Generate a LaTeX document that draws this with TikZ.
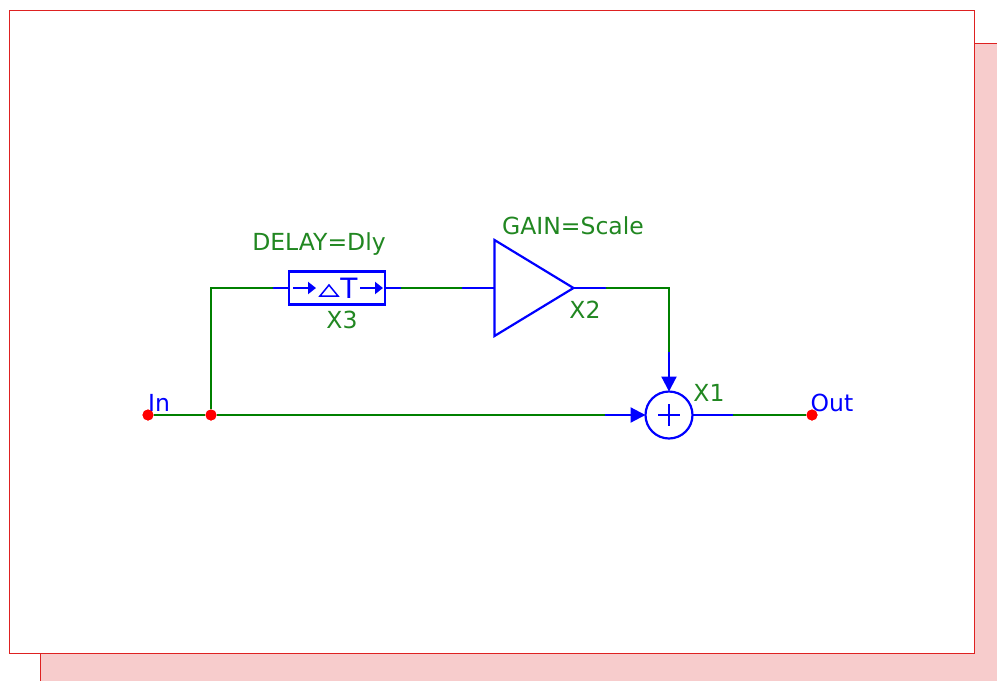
\documentclass[tikz,border=0pt]{standalone}
\usepackage{fontspec}
\setmainfont{DejaVu Sans}
\usetikzlibrary{positioning}
\usetikzlibrary{shapes.geometric}
\usetikzlibrary {arrows.meta}
\definecolor{wiregreen}{rgb}{0,0.5,0}
\definecolor{labelgreen}{rgb}{0.13,0.53,0.13}
\definecolor{pinkfill}{rgb}{0.97,0.8,0.8}
\definecolor{sheetred}{rgb}{0.87,0.13,0.13}

\begin{document}
\begin{tikzpicture}[x=1pt, y=-1pt,
		b/.style = {draw=blue,	line width=2.2pt, outer sep=0pt},
		g/.style = {draw=wiregreen,	line width=2.2pt},
		r/.style = {draw=blue,	line width=2.2pt, -{Triangle[length=15pt, width=15pt]}},
		d/.style = {circle,	fill=red,	inner sep=0pt,	minimum size=11pt},
		l/.style = {text=labelgreen,	font=\fontsize{23.5}{23.5}\selectfont, inner sep=0pt},
		p/.style = {text=blue,	font=\fontsize{23.5}{23.5}\selectfont, inner sep=0pt}
		]
		\useasboundingbox (0, 0) rectangle (997, 681);

		%Sheet
		\fill[pinkfill]	(40, 43) rectangle (997, 681);
		\draw[sheetred, line width=1pt]	(975, 43) -- (997, 43);
		\draw[sheetred, line width=1pt]	(40, 654) -- (40, 681);
		\draw[sheetred, line width=1pt, fill=white]	(9, 10) rectangle (974.5, 653.5);

		%Nodes
		\node[d]	(in)	at	(148, 415)	{};
		\node[d]	(j1)	at	(211, 415)	{};
		\node[d]	(out)	at	(812, 415)	{};

		\node[b, rectangle, minimum width=96pt, minimum height=33pt, inner sep=0pt]	(x3)	at	(337, 288)	{};
		\node[b, isosceles triangle, isosceles triangle stretches, minimum width=96pt, minimum height=79pt, inner sep=0pt, anchor=lower side]	(x2)	at	(494.5, 288)	{};
		\node[b, circle, minimum size=47pt, inner sep=0pt]	(x1)	at	(669, 415)	{};

		\coordinate	(c1)	at	(211, 288);
		\coordinate	(c2)	at	(273, 288);
		\coordinate	(c3)	at	(401, 288);
		\coordinate	(c4)	at	(462, 288);
		\coordinate	(c5)	at	(606, 288);
		\coordinate	(c6)	at	(669, 288);
		\coordinate	(c7)	at	(669, 352);
		\coordinate	(c8)	at	(605, 415);
		\coordinate	(c9)	at	(733, 415);

		%Inside X3
		\coordinate	(a1)	at	(293, 288);
		\coordinate	(a2)	at	(316, 288);
		\coordinate	(a3)	at	(360, 288);
		\coordinate	(a4)	at	(383, 288);
		\draw[blue, line width=1.5pt, line join=miter]	(329, 285) -- (338, 296) -- (320, 296) -- cycle;
		\node[text=blue, font=\fontsize{28}{28}\selectfont, inner sep=0pt]	(dt)	at	(349, 288)	{T};
		\draw[r, -{Triangle[length=8pt, width=12pt]}]	(a1) -- (a2);
		\draw[r, -{Triangle[length=8pt, width=12pt]}]	(a3) -- (a4);

		%Inside X1
		\draw[blue, line width=1.5pt]	(658, 415) -- (680, 415);
		\draw[blue, line width=1.5pt]	(669, 404) -- (669, 426);

		%Labels
		\node[l]	(delay)	at	(319, 244)	{DELAY=Dly};
		\node[l]	(gain)	at	(573, 226)	{GAIN=Scale};
		\node[l]	(lx3)	at	(342, 320)	{X3};
		\node[l]	(lx2)	at	(585, 310)	{X2};
		\node[l]	(lx1)	at	(709, 393)	{X1};
		\node[p]	(lin)	at	(159, 403)	{In};
		\node[p]	(lout)	at	(832, 403)	{Out};

		%Lines
		\draw[g]	(in)	--	(j1);
		\draw[g]	(j1)	--	(c8);
		\draw[r]	(c8)	--	(x1.west);
		\draw[g]	(j1)	--	(c1)	--	(c2);
		\draw[b]	(c2)	--	(x3.west);
		\draw[b]	(x3.east)	--	(c3);
		\draw[g]	(c3)	--	(c4);
		\draw[b]	(c4)	--	(x2.lower side);
		\draw[b]	(x2.apex)	--	(c5);
		\draw[g]	(c5)	--	(c6)	--	(c7);
		\draw[r]	(c7)	--	(x1.north);
		\draw[b]	(x1.east)	--	(c9);
		\draw[g]	(c9)	--	(out);

		\node[d]	at	(in)	{};
		\node[d]	at	(j1)	{};
		\node[d]	at	(out)	{};
	\end{tikzpicture}
\end{document}
